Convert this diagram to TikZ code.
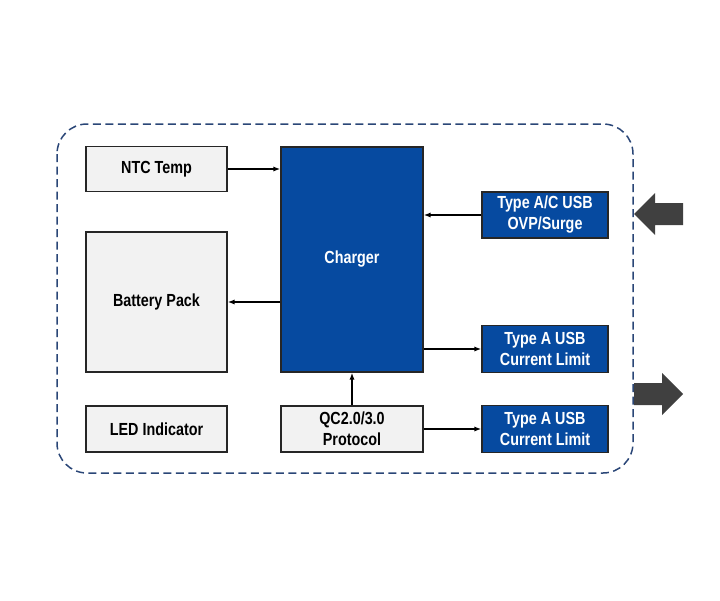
\documentclass[tikz,border=0pt]{standalone}
\usepackage{fontspec}
\newfontfamily\diagfont{Liberation Sans}[FakeStretch=0.82]
\usetikzlibrary{arrows.meta,positioning}
\definecolor{boxgray}{HTML}{F2F2F2}
\definecolor{chgblue}{HTML}{064AA0}
\definecolor{framenavy}{HTML}{2A4677}
\definecolor{bigarrow}{HTML}{404040}

\begin{document}
\begin{tikzpicture}[
  x=1pt, y=-1pt,
  every node/.style={font=\diagfont\bfseries\fontsize{17.5}{21}\selectfont},
  graybox/.style={draw=black!85, fill=boxgray, line width=1.4pt, inner sep=0pt,
    minimum width=141pt, align=center},
  bluebox/.style={draw=black!85, fill=chgblue, text=white, line width=1.4pt,
    inner sep=0pt, align=center},
  link/.style={-{Latex[length=2.4mm,width=1.8mm]}, black, line width=1.5pt}
]
\useasboundingbox (0,0) rectangle (720,600);

% System outline.
\draw[framenavy, line width=1.5pt, dash pattern=on 8pt off 4.5pt, rounded corners=30pt]
  (57,124) rectangle (633,473);

% Left column blocks.
\node[graybox, minimum height=45pt] (ntc) at (156.5,169) {NTC Temp};
\node[graybox, minimum height=140pt] (bat) at (156.5,302) {Battery Pack};
\node[graybox, minimum height=46pt] (led) at (156.5,429) {LED Indicator};

% Centre column blocks.
\node[bluebox, minimum width=142pt, minimum height=225pt] (chg) at (352,259.5) {Charger};
\node[graybox, minimum width=142pt, minimum height=46pt] (qc) at (352,429) {QC2.0/3.0\\Protocol};

% USB ports.
\node[bluebox, minimum width=126pt, minimum height=46pt] (ovp) at (545,215) {Type A/C USB\\OVP/Surge};
\node[bluebox, minimum width=126pt, minimum height=47pt] (usba) at (545,349) {Type A USB\\Current Limit};
\node[bluebox, minimum width=126pt, minimum height=47pt] (usbb) at (545,429) {Type A USB\\Current Limit};

% Signal paths.
\draw[link] (ntc.east) -- (ntc.east -| chg.west);
\draw[link] (chg.west |- bat.east) -- (bat.east);
\draw[link] (ovp.west) -- (ovp.west -| chg.east);
\draw[link] (chg.east |- usba.west) -- (usba.west);
\draw[link] (qc.north) -- (chg.south);
\draw[link] (qc.east) -- (qc.east -| usbb.west);

% Power in / out.
\fill[bigarrow] (683,203) -- (655,203) -- (655,193) -- (634,214) -- (655,235)
  -- (655,225) -- (683,225) -- cycle;
\fill[bigarrow] (634,383) -- (662,383) -- (662,373) -- (683,394) -- (662,415)
  -- (662,405) -- (634,405) -- cycle;
\end{tikzpicture}
\end{document}
